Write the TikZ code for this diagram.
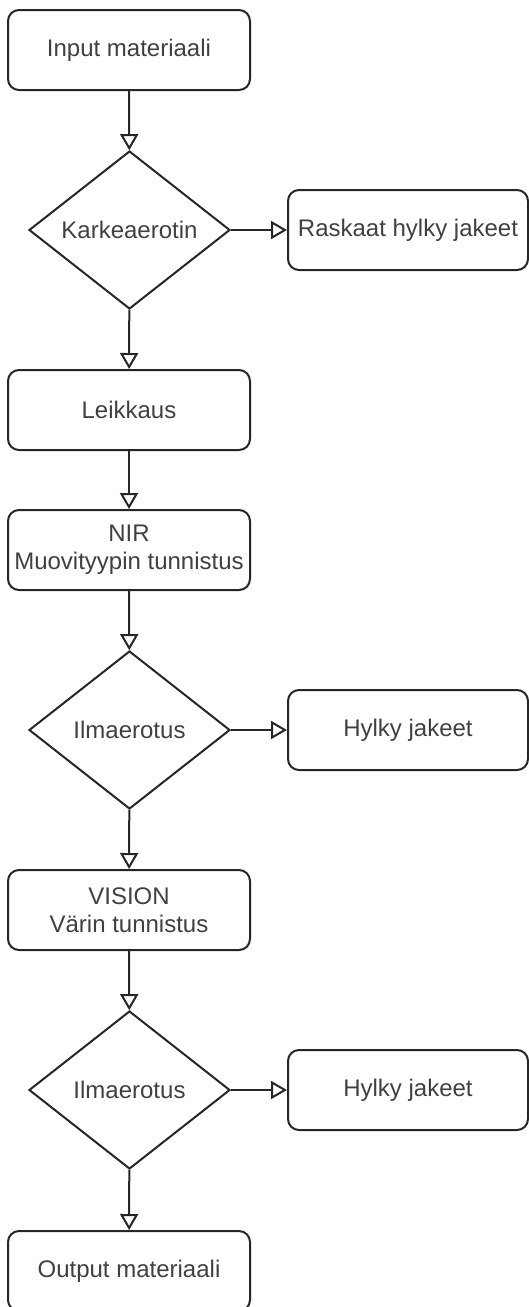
\documentclass[tikz,border=0pt]{standalone}
\usepackage{fontspec}
\setmainfont{Liberation Sans}
\usetikzlibrary{shapes.geometric,arrows.meta}
\begin{document}
\begin{tikzpicture}[x=1pt,y=-1pt,
  base/.style={draw=black!85, line width=2pt, inner sep=0pt, align=center,
    font=\fontsize{24}{28}\selectfont, text=black!75},
  box/.style={base, rounded corners=11pt, minimum width=242pt, minimum height=80pt},
  sidebox/.style={base, rounded corners=11pt, minimum width=240pt, minimum height=80pt},
  dec/.style={base, diamond, minimum width=201pt, minimum height=158pt, aspect=1.27},
  flow/.style={draw=black!85, line width=2pt, -{Triangle[open,length=16pt,width=18pt]}}]
\useasboundingbox (0,0) rectangle (529,1307);
\node[box] (in) at (129,50) {Input materiaali};
\node[dec] (d1) at (129.5,230) {Karkeaerotin};
\node[sidebox] (r1) at (408,230) {Raskaat hylky jakeet};
\node[box] (lei) at (129,410) {Leikkaus};
\node[box] (nir) at (129,550) {NIR\\Muovityypin tunnistus};
\node[dec] (d2) at (129.5,730) {Ilmaerotus};
\node[sidebox] (r2) at (408,730) {Hylky jakeet};
\node[box] (vis) at (129,910) {VISION\\Värin tunnistus};
\node[dec] (d3) at (129.5,1090) {Ilmaerotus};
\node[sidebox] (r3) at (408,1090) {Hylky jakeet};
\node[box] (out) at (129,1271) {Output materiaali};
\draw[flow] (in) -- (d1);
\draw[flow] (d1.east) -- (r1.west);
\draw[flow] (d1) -- (lei);
\draw[flow] (lei) -- (nir);
\draw[flow] (nir) -- (d2);
\draw[flow] (d2.east) -- (r2.west);
\draw[flow] (d2) -- (vis);
\draw[flow] (vis) -- (d3);
\draw[flow] (d3.east) -- (r3.west);
\draw[flow] (d3) -- (out);
\end{tikzpicture}
\end{document}
